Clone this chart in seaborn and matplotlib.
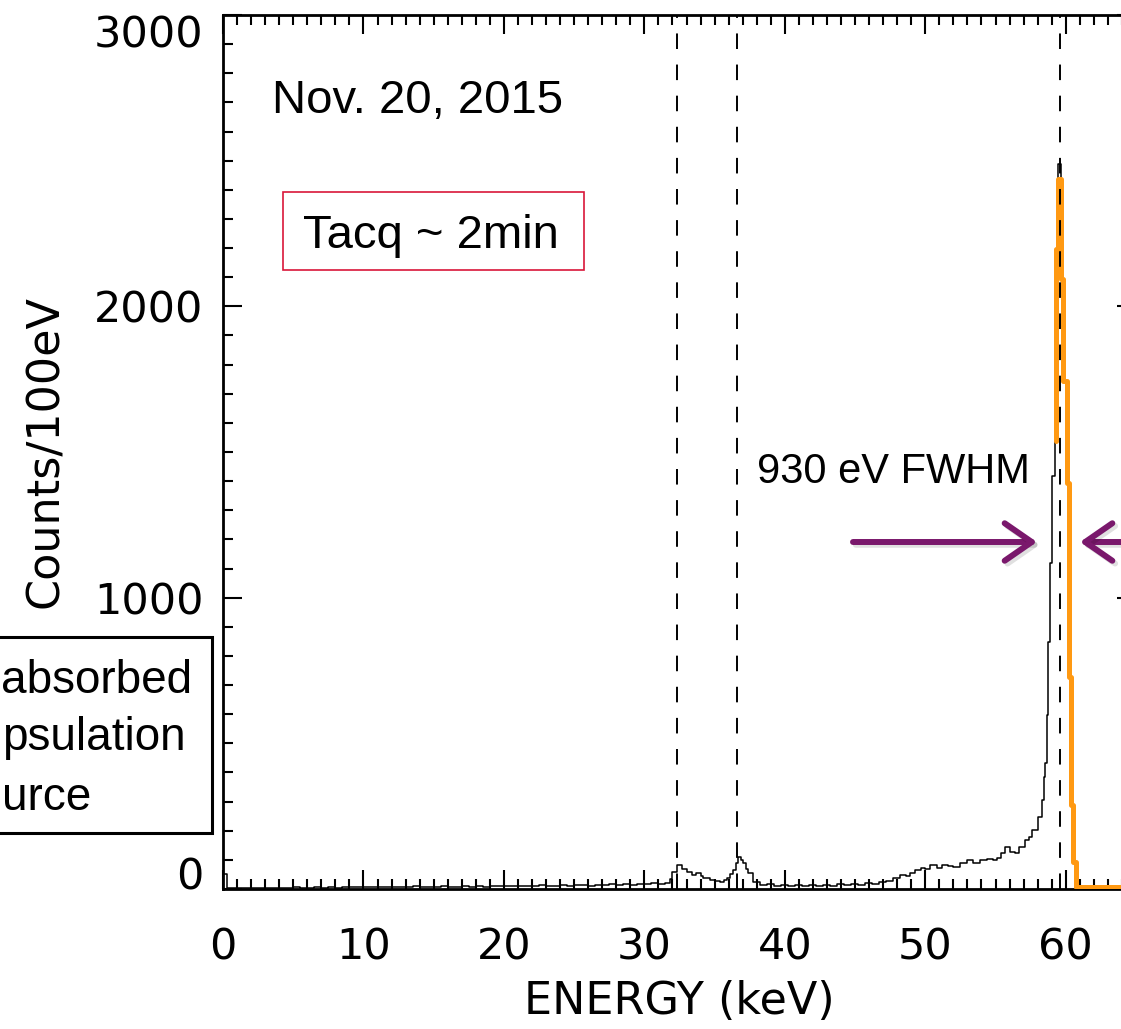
import numpy as np
import pandas as pd
import matplotlib
matplotlib.use("Agg")
import matplotlib.pyplot as plt
import seaborn as sns
from matplotlib.ticker import MultipleLocator, FixedLocator
from matplotlib.patches import Rectangle, FancyArrowPatch, ArrowStyle
import matplotlib.patheffects as pe

# ---------------- data ----------------
energy_black = [0.0, 0.3, 0.5, 1.0, 1.5, 2.0, 2.5, 3.0, 3.5, 4.0, 4.5, 5.0, 5.5, 6.0, 6.5,
                7.0, 7.5, 8.0, 8.5, 9.0, 9.5, 10.0, 10.5, 11.0, 11.5, 12.0, 12.5, 13.0, 13.5,
                14.0, 14.5, 15.0, 15.5, 16.0, 16.5, 17.0, 17.5, 18.0, 18.5, 19.0, 19.5, 20.0,
                20.5, 21.0, 21.5, 22.0, 22.5, 23.0, 23.5, 24.0, 24.5, 25.0, 25.5, 26.0, 26.5,
                27.0, 27.5, 28.0, 28.5, 29.0, 29.5, 30.0, 30.5, 31.0, 31.5, 31.8, 32.0, 32.3,
                32.7, 33.0, 33.4, 33.7, 34.0, 34.2, 34.7, 35.0, 35.4, 35.7, 35.9, 36.1, 36.3,
                36.5, 36.7, 36.9, 37.0, 37.2, 37.4, 37.7, 38.2, 38.7, 39.2, 39.7, 40.2, 40.7,
                41.2, 41.7, 42.2, 42.7, 43.2, 43.7, 44.2, 44.7, 45.2, 45.7, 46.2, 46.7, 47.2,
                47.7, 48.2, 48.6, 48.9, 49.3, 49.7, 50.0, 50.3, 50.8, 51.2, 51.6, 52.0, 52.5,
                53.0, 53.4, 53.9, 54.4, 54.8, 55.1, 55.4, 55.7, 56.0, 56.4, 56.7, 57.1, 57.4,
                57.6, 58.0, 58.3, 58.42, 58.52, 58.65, 58.75, 58.9, 59.05, 59.2, 59.33, 59.47,
                59.68, 59.79, 60.07, 60.25, 60.39, 60.53, 60.75, 61.0, 65.0]
counts_black = [50, 2, 3, 2, 4, 3, 5, 4, 3, 5, 4, 6, 5, 4, 6,
                5, 7, 5, 6, 8, 6, 7, 6, 8, 7, 6, 8, 7, 9,
                7, 8, 6, 9, 8, 7, 9, 8, 10, 8, 9, 11, 9,
                10, 12, 10, 11, 13, 11, 12, 14, 12, 13, 14, 12, 15,
                13, 16, 14, 17, 15, 18, 16, 20, 17, 22, 35, 58, 82,
                70, 58, 48, 55, 45, 38, 31, 28, 24, 30, 38, 50, 65,
                90, 110, 100, 89, 70, 55, 24, 14, 17, 12, 15, 11, 14,
                12, 15, 11, 14, 12, 16, 13, 17, 15, 20, 18, 24, 28,
                38, 48, 44, 55, 65, 72, 68, 82, 72, 82, 78, 75, 89,
                100, 89, 100, 103, 98, 106, 123, 144, 127, 123, 144, 168, 178,
                202, 247, 305, 384, 432, 597, 847, 1118, 1419, 1539, 2197, 2489,
                2095, 1745, 1395, 727, 288, 93, 5, 3, 3]

energy_orange = [59.33, 59.33, 59.47, 59.68, 59.79, 60.07, 60.25, 60.39, 60.53, 60.75, 66.0]
counts_orange = [1539, 2197, 2437, 2095, 1745, 1395, 727, 288, 93, 6, 6]

line_energies = [32.3, 36.6, 59.6]

x_ticks = [0, 10, 20, 30, 40, 50, 60]
y_ticks = [0, 1000, 2000, 3000]

box_lines = ["absorbed", "psulation", "urce"]

# ---------------- figure ----------------
sns.set_style("ticks")
plt.rcParams["font.family"] = ["DejaVu Sans"]
plt.rcParams.update({"text.color": "black", "axes.labelcolor": "black",
                     "xtick.color": "black", "ytick.color": "black",
                     "axes.edgecolor": "black"})

W, H = 1121, 1029
fig = plt.figure(figsize=(W / 100, H / 100), dpi=100)


def fx(px):
    return px / W


def fy(py):
    return 1 - py / H


ax = fig.add_axes([223 / W, 1 - 889 / H, 913 / W, 874 / H])

sns.lineplot(x=energy_black, y=counts_black, ax=ax, estimator=None, sort=False,
             drawstyle="steps-post", color="black", lw=1.1, zorder=3)
sns.lineplot(x=energy_orange, y=counts_orange, ax=ax, estimator=None, sort=False,
             drawstyle="steps-post", color="#ff9912", lw=3.6, zorder=4)
for e in line_energies:
    ax.axvline(e, color="black", lw=1.4, ls=(0, (8, 8)), zorder=5)

ax.set_xlim(0, 65)
ax.set_ylim(0, 3000)
ax.xaxis.set_major_locator(FixedLocator(x_ticks))
ax.xaxis.set_minor_locator(MultipleLocator(1))
ax.yaxis.set_major_locator(FixedLocator(y_ticks))
ax.yaxis.set_minor_locator(MultipleLocator(100))
ax.tick_params(which="both", direction="in", top=True, right=True, width=1.5,
               color="black", labelcolor="black")
ax.tick_params(which="major", length=14, labelsize=31)
ax.tick_params(which="minor", length=7)
ax.tick_params(axis="x", pad=27)
ax.tick_params(axis="y", pad=14)
for s in ax.spines.values():
    s.set_linewidth(2)
    s.set_color("black")

ylabels = ax.get_yticklabels()
ylabels[0].set_va("baseline")
ylabels[-1].set_va("top")

ax.set_xlabel("ENERGY (keV)", fontsize=32, color="black")
ax.xaxis.set_label_coords(0.5, -0.104)
ax.set_ylabel("Counts/100eV", fontsize=32, color="black")
ax.yaxis.set_label_coords(-0.1705, 0.5)

# ---------------- annotations ----------------
sans = ["Liberation Sans", "DejaVu Sans"]
fig.text(fx(272), fy(113), "Nov. 20, 2015", fontsize=34, family=sans, va="baseline", color="black")

fig.add_artist(Rectangle((fx(283), fy(270)), (584 - 283) / W, (270 - 192) / H,
                         transform=fig.transFigure, fill=False, edgecolor="#d9163a", lw=1.2))
fig.text(fx(303), fy(248), "Tacq ~ 2min", fontsize=34, family=sans, va="baseline", color="black")

fig.text(fx(757), fy(483), "930 eV FWHM", fontsize=30, family=sans, va="baseline", color="black")

fig.add_artist(Rectangle((fx(-30), fy(833)), (212 + 30) / W, (833 - 637) / H,
                         transform=fig.transFigure, fill=False, edgecolor="black", lw=2.2))
box_x = [1, 2, 2]
box_baselines = [693, 750, 810]
for txt, x0, b in zip(box_lines, box_x, box_baselines):
    fig.text(fx(x0), fy(b), txt, fontsize=33, family=sans, va="baseline", color="black")

purple = "#7a186c"
astyle = ArrowStyle("->", head_length=1.3, head_width=0.9)
for (x0, x1) in [(853, 1037), (1140, 1080)]:
    arr = FancyArrowPatch((fx(x0), fy(542)), (fx(x1), fy(542)), transform=fig.transFigure,
                          arrowstyle=astyle, mutation_scale=15, lw=4.3, color=purple,
                          capstyle="round", joinstyle="round", shrinkA=0, shrinkB=0)
    arr.set_path_effects([pe.SimpleLineShadow(offset=(2, -2), shadow_color="black", alpha=0.12),
                          pe.Normal()])
    fig.add_artist(arr)

fig.savefig("out.png", dpi=100)
